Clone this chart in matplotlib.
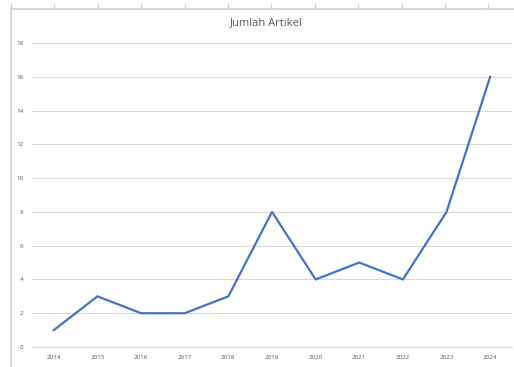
import matplotlib.pyplot as plt
from matplotlib.lines import Line2D

years = ['2014', '2015', '2016', '2017', '2018', '2019', '2020', '2021', '2022', '2023', '2024']
artikel = [1, 3, 2, 2, 3, 8, 4, 5, 4, 8, 16]

W, H = 514, 367
fig = plt.figure(figsize=(W / 100, H / 100), dpi=100)
plt.rcParams['font.family'] = ['Open Sans', 'DejaVu Sans']

# plot area in pixels: x 32..512, y 43 (=18) .. 347 (=0)
ax = fig.add_axes([32 / W, 1 - 347 / H, 480 / W, 304 / H])
x = list(range(len(years)))
ax.plot(x, artikel, color='#4472C4', linewidth=1.6, solid_joinstyle='round')
ax.set_xlim(-0.5, len(years) - 0.5)
ax.set_ylim(0, 18)
ax.set_yticks(range(0, 19, 2))
ax.set_xticks(x)
ax.set_xticklabels(years)
ax.tick_params(axis='both', length=0, labelsize=4.5, colors='#595959', pad=6)
ax.grid(axis='y', color='#D9D9D9', linewidth=0.8)
ax.set_axisbelow(True)
for s in ['top', 'right', 'left']:
    ax.spines[s].set_visible(False)
ax.spines['bottom'].set_color('#D9D9D9')
ax.spines['bottom'].set_linewidth(0.8)

fig.text(266 / W, 1 - 23 / H, 'Jumlah Artikel', ha='center', va='center',
         fontsize=8, color='#595959')

# chart frame edges (sheet screenshot)
frame = '#D0D0D0'
fig.add_artist(Line2D([11 / W, 11 / W], [1 - 9 / H, 0], color=frame, linewidth=1.2))
fig.add_artist(Line2D([11 / W, 1], [1 - 9 / H, 1 - 9 / H], color=frame, linewidth=1.2))
for i in range(12):
    px = 11 + i * 43.4
    fig.add_artist(Line2D([px / W, px / W], [1 - 4 / H, 1 - 9 / H], color=frame, linewidth=0.8))

fig.savefig('out.png', dpi=100)
